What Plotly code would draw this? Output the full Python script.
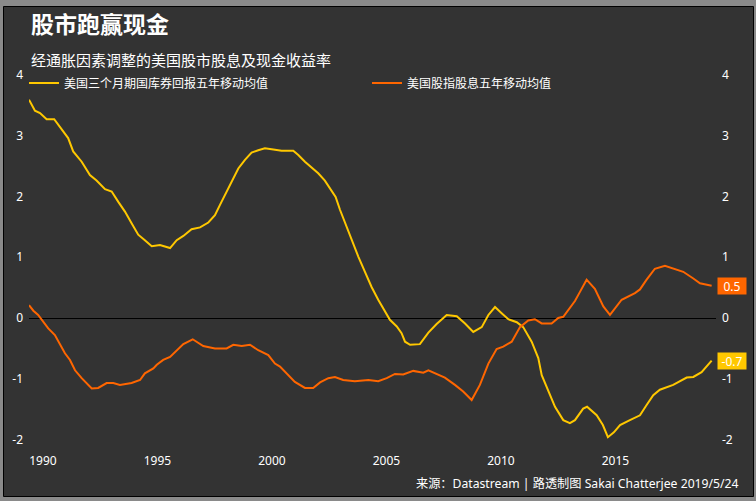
import plotly.graph_objects as go

# ---- data ----
tbill_years = [1989.39, 1989.65, 1989.87, 1990.16, 1990.49, 1990.74, 1991.10, 1991.32, 1991.69, 1992.05,
               1992.34, 1992.71, 1993.00, 1993.29, 1993.58, 1993.87, 1994.16, 1994.45, 1994.75, 1995.11,
               1995.55, 1995.84, 1996.13, 1996.49, 1996.86, 1997.22, 1997.51, 1997.73, 1998.02, 1998.31,
               1998.53, 1998.82, 1999.11, 1999.40, 1999.69, 2000.06, 2000.42, 2000.93, 2001.15, 2001.44,
               2001.73, 2002.02, 2002.31, 2002.53, 2002.78, 2002.97, 2003.19, 2003.48, 2003.77, 2004.06,
               2004.35, 2004.64, 2004.93, 2005.15, 2005.45, 2005.66, 2005.81, 2006.03, 2006.46, 2006.83,
               2007.19, 2007.63, 2008.07, 2008.43, 2008.79, 2009.16, 2009.45, 2009.74, 2010.03, 2010.32,
               2010.69, 2010.97, 2011.34, 2011.63, 2011.78, 2012.07, 2012.36, 2012.72, 2013.01, 2013.23,
               2013.59, 2013.76, 2014.18, 2014.45, 2014.67, 2014.93, 2015.20, 2015.63, 2016.07, 2016.36,
               2016.65, 2016.94, 2017.52, 2018.11, 2018.40, 2018.76, 2019.20]
tbill_values = [3.59, 3.41, 3.37, 3.27, 3.27, 3.15, 2.96, 2.74, 2.57, 2.35,
                2.26, 2.12, 2.08, 1.91, 1.75, 1.56, 1.37, 1.28, 1.18, 1.20,
                1.15, 1.28, 1.35, 1.46, 1.49, 1.57, 1.69, 1.86, 2.08, 2.32,
                2.46, 2.60, 2.72, 2.76, 2.79, 2.77, 2.75, 2.75, 2.68, 2.57,
                2.48, 2.38, 2.26, 2.13, 1.99, 1.78, 1.56, 1.28, 1.01, 0.76,
                0.51, 0.30, 0.10, -0.03, -0.14, -0.25, -0.39, -0.44, -0.43, -0.24,
                -0.10, 0.05, 0.03, -0.09, -0.23, -0.15, 0.05, 0.18, 0.08, -0.02,
                -0.07, -0.15, -0.39, -0.66, -0.94, -1.21, -1.46, -1.68, -1.73, -1.68,
                -1.49, -1.46, -1.60, -1.76, -1.96, -1.88, -1.76, -1.68, -1.60, -1.43,
                -1.27, -1.18, -1.10, -0.98, -0.97, -0.89, -0.70]

div_years = [1989.39, 1989.58, 1989.79, 1990.01, 1990.23, 1990.52, 1990.74, 1990.96, 1991.18, 1991.40,
             1991.69, 1992.13, 1992.41, 1992.78, 1993.07, 1993.36, 1993.87, 1994.24, 1994.45, 1994.82,
             1994.97, 1995.25, 1995.55, 1995.84, 1996.13, 1996.54, 1997.00, 1997.51, 1998.02, 1998.31,
             1998.68, 1999.04, 1999.40, 1999.84, 2000.13, 2000.35, 2000.71, 2001.00, 2001.44, 2001.80,
             2002.10, 2002.46, 2002.75, 2003.11, 2003.62, 2004.21, 2004.64, 2005.01, 2005.37, 2005.73,
             2006.17, 2006.61, 2006.83, 2007.12, 2007.55, 2007.99, 2008.35, 2008.72, 2009.08, 2009.45,
             2009.81, 2010.10, 2010.47, 2010.83, 2011.19, 2011.48, 2011.78, 2012.21, 2012.50, 2012.72,
             2013.23, 2013.45, 2013.74, 2014.10, 2014.47, 2014.76, 2015.27, 2015.85, 2016.07, 2016.36,
             2016.72, 2017.16, 2017.52, 2017.96, 2018.40, 2018.69, 2019.20]
div_values = [0.21, 0.12, 0.05, -0.06, -0.17, -0.28, -0.44, -0.58, -0.69, -0.86,
              -0.99, -1.16, -1.15, -1.07, -1.07, -1.10, -1.07, -1.02, -0.91, -0.83,
              -0.77, -0.69, -0.64, -0.53, -0.43, -0.35, -0.46, -0.50, -0.50, -0.44,
              -0.46, -0.44, -0.53, -0.61, -0.75, -0.80, -0.94, -1.05, -1.15, -1.15,
              -1.06, -0.99, -0.97, -1.02, -1.04, -1.02, -1.04, -0.99, -0.92, -0.93,
              -0.87, -0.90, -0.86, -0.91, -0.98, -1.10, -1.21, -1.35, -1.10, -0.75,
              -0.51, -0.47, -0.39, -0.15, -0.04, -0.02, -0.09, -0.09, 0.00, 0.02,
              0.28, 0.43, 0.63, 0.48, 0.19, 0.05, 0.30, 0.41, 0.47, 0.63,
              0.81, 0.86, 0.81, 0.76, 0.65, 0.57, 0.53]

x_tickvals = [1990, 1995, 2000, 2005, 2010, 2015]
y_tickvals = [-2, -1, 0, 1, 2, 3, 4]
y_ticktext = ["-2", "-1", "0", "1", "2", "3", "4"]

tbill_name = "美国三个月期国库券回报五年移动均值"
div_name = "美国股指股息五年移动均值"
title_text = "股市跑赢现金"
subtitle_text = "经通胀因素调整的美国股市股息及现金收益率"
source_text = "来源：Datastream | 路透制图 Sakai Chatterjee 2019/5/24"

# ---- styling / layout constants ----
W, H = 756, 501
L, R, T, B = 29, 40, 70, 49
PW, PH = W - L - R, H - T - B
YELLOW = "#ffc800"
ORANGE = "#ff6600"
BG = "#333333"
FONT = "Noto Sans, Noto Sans CJK SC, sans-serif"


def px_x(px):
    return (px - L) / PW


def px_y(py):
    return (H - B - py) / PH


x_range = [1989.39, 1989.39 + PW / 22.9]
y_range = [(318 - (H - B)) / 60.8, (318 - T) / 60.8]

fig = go.Figure()
fig.add_trace(go.Scatter(x=tbill_years, y=tbill_values, mode="lines", name=tbill_name,
                         line=dict(color=YELLOW, width=2), yaxis="y", legend="legend"))
fig.add_trace(go.Scatter(x=div_years, y=div_values, mode="lines", name=div_name,
                         line=dict(color=ORANGE, width=2), yaxis="y2", legend="legend2"))

axis_font = dict(family=FONT, size=12, color="white")
leg_common = dict(orientation="h", xanchor="left", yanchor="middle", bgcolor="rgba(0,0,0,0)",
                  font=dict(family=FONT, size=12, color="white"), itemwidth=30,
                  borderwidth=0)
fig.update_layout(
    width=W, height=H,
    margin=dict(l=L, r=R, t=T, b=B, pad=0, autoexpand=False),
    paper_bgcolor="#8a8a8a",
    plot_bgcolor="rgba(0,0,0,0)",
    font=dict(family=FONT, color="white"),
    showlegend=True,
    legend=dict(x=px_x(24), y=px_y(83), **leg_common),
    legend2=dict(x=px_x(367), y=px_y(83), **leg_common),
    xaxis=dict(range=x_range, tickvals=x_tickvals, showgrid=False, zeroline=False,
               showline=False, ticks="", tickfont=axis_font, automargin=False),
    yaxis=dict(range=y_range, tickvals=y_tickvals, ticktext=y_ticktext, showgrid=False,
               zeroline=True, zerolinecolor="black", zerolinewidth=1, showline=False, ticks="",
               tickfont=axis_font, side="left", ticklabelstandoff=5, automargin=False),
    yaxis2=dict(range=y_range, tickvals=y_tickvals, ticktext=y_ticktext, showgrid=False,
                zeroline=False, showline=False, ticks="", tickfont=axis_font, side="right",
                overlaying="y", ticklabelstandoff=5, automargin=False),
    shapes=[dict(type="rect", xref="paper", yref="paper", layer="below",
                 x0=px_x(3.5), x1=px_x(753.5), y0=px_y(496.5), y1=px_y(6.5),
                 fillcolor=BG, line=dict(color="black", width=1))],
)

annotations = [
    dict(text="<b>" + title_text + "</b>", x=px_x(29), y=px_y(24), xanchor="left", yanchor="middle",
         font=dict(family=FONT, size=23, color="white")),
    dict(text=subtitle_text, x=px_x(29), y=px_y(60), xanchor="left", yanchor="middle",
         font=dict(family=FONT, size=15, color="white")),
    dict(text=source_text, x=px_x(741), y=px_y(483), xanchor="right", yanchor="middle",
         font=dict(family=FONT, size=12.2, color="white")),
    dict(text=f"{div_values[-1]:.1f}", x=px_x(732), y=div_values[-1], yref="y",
         xanchor="center", yanchor="middle", bgcolor=ORANGE, width=26, height=14, borderpad=1,
         font=dict(family=FONT, size=12, color="white")),
    dict(text=f"{tbill_values[-1]:.1f}", x=px_x(732), y=tbill_values[-1], yref="y",
         xanchor="center", yanchor="middle", bgcolor=YELLOW, width=26, height=14, borderpad=1,
         font=dict(family=FONT, size=12, color="white")),
]
for a in annotations:
    a.setdefault("xref", "paper")
    a.setdefault("yref", "paper")
    a["showarrow"] = False
fig.update_layout(annotations=annotations)

fig.write_html("out.html", config={"displayModeBar": False},
               post_script="document.body.style.margin='0';")
